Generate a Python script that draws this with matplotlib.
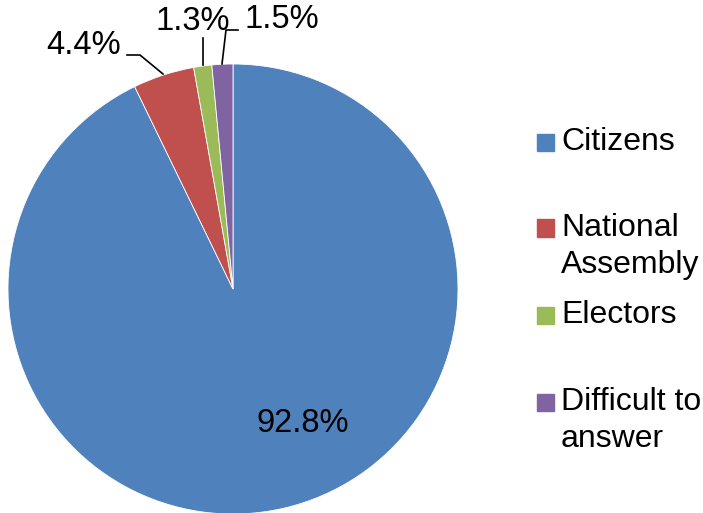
import matplotlib
matplotlib.use("Agg")
import matplotlib.pyplot as plt
import matplotlib.patches as mpatches

plt.rcParams['font.family'] = ['Liberation Sans', 'DejaVu Sans']

labels = ['Citizens', 'National\nAssembly', 'Electors', 'Difficult to\nanswer']
values = [92.8, 4.4, 1.3, 1.5]
colors = ['#4F81BD', '#C0504D', '#9BBB59', '#8064A2']

W, H = 703, 513
fig = plt.figure(figsize=(W / 100, H / 100), dpi=100)

# pie centre ~ (233, 289) px, radius ~ 225 px
cx, cy, r = 233, 289, 225
ax = fig.add_axes([(cx - r) / W, (H - cy - r) / H, 2 * r / W, 2 * r / H])
wedges, _ = ax.pie(values, colors=colors, startangle=90, counterclock=False,
                   radius=1.0, wedgeprops=dict(edgecolor='white', linewidth=0.6))
ax.set_xlim(-1, 1)
ax.set_ylim(-1, 1)
ax.set_aspect('equal')
ax.axis('off')

def px(x, y):
    # pixel -> data coords of the pie axes
    return ((x - cx) / r, (cy - y) / r)

fs = 23.5
# big slice label inside
ax.text(*px(303, 423), f'{values[0]}%', fontsize=fs, ha='center', va='center')

# small slices with leader lines
ax.text(*px(121, 46), f'{values[1]}%', fontsize=fs, ha='right', va='center')
ax.plot(*zip(px(127, 55), px(140, 55), px(163, 74)), color='black', lw=1.2, clip_on=False)

ax.text(*px(193, 21), f'{values[2]}%', fontsize=fs, ha='center', va='center')
ax.plot(*zip(px(203, 38), px(203, 65)), color='black', lw=1.2, clip_on=False)

ax.text(*px(244, 19), f'{values[3]}%', fontsize=fs, ha='left', va='center')
ax.plot(*zip(px(238, 30), px(226, 30), px(222, 64)), color='black', lw=1.2, clip_on=False)

# legend drawn by hand (uneven Excel spacing)
leg_y = [142, 228, 315, 402]
lfs = 23
for lab, col, y in zip(labels, colors, leg_y):
    fig.patches.append(mpatches.Rectangle((537 / W, (H - y - 8.5) / H), 17 / W, 17 / H,
                                          transform=fig.transFigure, color=col))
    fig.text(561 / W, (H - y) / H, lab.split('\n')[0], fontsize=lfs, ha='left',
             va='center', transform=fig.transFigure)
    if '\n' in lab:
        fig.text(561 / W, (H - y - 37) / H, lab.split('\n')[1], fontsize=lfs,
                 ha='left', va='center', transform=fig.transFigure)

fig.savefig('out.png', dpi=100)
